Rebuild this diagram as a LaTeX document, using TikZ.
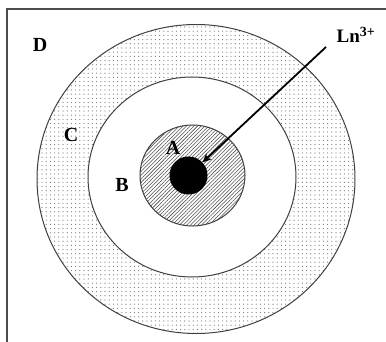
\documentclass[tikz,border=0pt]{standalone}
\usepackage{fontspec}
\setmainfont{Liberation Serif}
\usetikzlibrary{patterns,patterns.meta,arrows.meta,shapes.geometric}
\tikzset{
  ring/.style={draw=black!75, line width=1pt},
  lbl/.style={font=\fontsize{20}{20}\selectfont\bfseries, inner sep=0pt},
}
\begin{document}
\begin{tikzpicture}[x=1pt,y=-1pt]
\useasboundingbox (0,0) rectangle (386,342);
\draw[black!70, line width=1.3pt] (7,342) -- (7,9) -- (386,9);
% outer C ring
\node[ring, ellipse, minimum width=318pt, minimum height=309pt, inner sep=0pt,
      pattern={Dots[distance=4.2pt, radius=0.6pt]}, pattern color=black!55] (outer) at (196,179) {};
% B region
\node[ring, ellipse, fill=white, minimum width=208pt, minimum height=200pt, inner sep=0pt] (mid) at (192,177) {};
% A region
\node[ring, ellipse, minimum width=105pt, minimum height=101pt, inner sep=0pt,
      pattern={Lines[angle=45, distance=2.6pt, line width=0.55pt]}, pattern color=black!70] (inner) at (192.5,175.5) {};
% core
\node[circle, fill=black, minimum size=38pt, inner sep=0pt] (core) at (188.5,175.5) {};
% labels
\node[lbl] (D) at (40,45) {D};
\node[lbl] (C) at (71,135) {C};
\node[lbl] (B) at (122,185) {B};
\node[lbl] (A) at (173,148) {A};
\node[lbl, font=\fontsize{19}{19}\selectfont\bfseries] (ln) at (356,35) {Ln\textsuperscript{\fontsize{14}{14}\selectfont 3+}};
\coordinate (s) at (326,47);
\draw[line width=1.8pt, -{Stealth[length=9pt, width=8pt]}] (s) -- (core);
\end{tikzpicture}
\end{document}
